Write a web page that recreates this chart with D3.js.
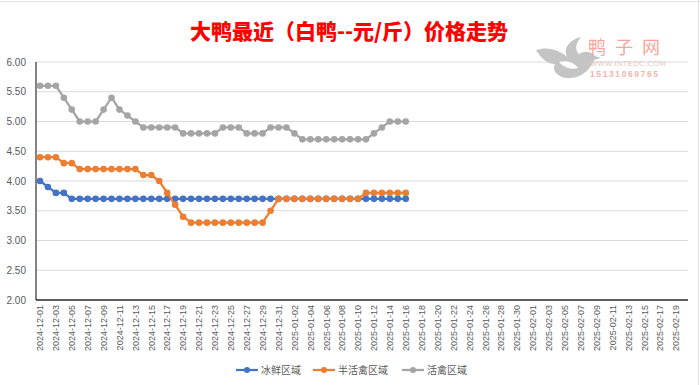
<!DOCTYPE html>
<html><head><meta charset="utf-8">
<script src="https://cdn.jsdelivr.net/npm/d3@7"></script>
<style>
html,body{margin:0;padding:0;background:#fff;}
svg{display:block;}
</style></head>
<body>
<svg id="c" width="700" height="385"></svg>
<script>
// ---- data ----
const startDate = "2024-12-01";
const endDate = "2025-02-20";
const seriesNames = ["冰鲜区域", "半活禽区域", "活禽区域"];
const seriesColors = ["#4472C4", "#ED7D31", "#A5A5A5"];
const iceValues = [4.0,3.9,3.8,3.8,3.7,3.7,3.7,3.7,3.7,3.7,3.7,3.7,3.7,3.7,3.7,3.7,3.7,3.7,3.7,3.7,3.7,3.7,3.7,3.7,3.7,3.7,3.7,3.7,3.7,3.7,3.7,3.7,3.7,3.7,3.7,3.7,3.7,3.7,3.7,3.7,3.7,3.7,3.7,3.7,3.7,3.7,3.7];
const halfLiveValues = [4.4,4.4,4.4,4.3,4.3,4.2,4.2,4.2,4.2,4.2,4.2,4.2,4.2,4.1,4.1,4.0,3.8,3.6,3.4,3.3,3.3,3.3,3.3,3.3,3.3,3.3,3.3,3.3,3.3,3.5,3.7,3.7,3.7,3.7,3.7,3.7,3.7,3.7,3.7,3.7,3.7,3.8,3.8,3.8,3.8,3.8,3.8];
const liveValues = [5.6,5.6,5.6,5.4,5.2,5.0,5.0,5.0,5.2,5.4,5.2,5.1,5.0,4.9,4.9,4.9,4.9,4.9,4.8,4.8,4.8,4.8,4.8,4.9,4.9,4.9,4.8,4.8,4.8,4.9,4.9,4.9,4.8,4.7,4.7,4.7,4.7,4.7,4.7,4.7,4.7,4.7,4.8,4.9,5.0,5.0,5.0];
const yTicks = [2.0,2.5,3.0,3.5,4.0,4.5,5.0,5.5,6.0];
const title = "大鸭最近（白鸭--元/斤）价格走势";

// ---- build categories ----
const fmt = d3.utcFormat("%Y-%m-%d");
const parse = d3.utcParse("%Y-%m-%d");
const categories = d3.utcDay.range(parse(startDate), d3.utcDay.offset(parse(endDate), 1)).map(fmt);
const allSeries = [iceValues, halfLiveValues, liveValues];

const svg = d3.select("#c");
const L = 36, R = 688, T = 62, B = 300;

// frame bits (spreadsheet edge)
svg.append("line").attr("x1",0).attr("x2",700).attr("y1",1.5).attr("y2",1.5).attr("stroke","#e3e3e3").attr("stroke-width",1);
svg.append("line").attr("x1",698.5).attr("x2",698.5).attr("y1",0).attr("y2",385).attr("stroke","#e3e3e3").attr("stroke-width",1);

const x = d3.scalePoint().domain(categories).range([L, R]).padding(0.5);
const y = d3.scaleLinear().domain([2, 6]).range([B, T]);

// gridlines
svg.append("g").selectAll("line").data(yTicks.filter(v => v > 2)).join("line")
  .attr("x1", L).attr("x2", R).attr("y1", d => y(d)).attr("y2", d => y(d))
  .attr("stroke", "#d9d9d9").attr("stroke-width", 1);

// watermark
const wm = svg.append("g");
wm.append("path")
  .attr("d", "M536,50 C548,46 560,50 567,57 C563,47 570,40 581,37 C575,44 575,50 579,54 C585,50 592,52 595,56 L601,58 L594,60 C591,68 583,77 571,78 C560,79 551,72 555,64 C547,64 541,58 536,50 Z")
  .attr("fill", "#c4c4c4");
wm.append("path")
  .attr("d", "M559,62 C566,60 574,62 578,68 C572,70 564,68 559,62 Z")
  .attr("fill", "#fff");
wm.append("text").attr("x", 588).attr("y", 53.5).attr("font-family", "Noto Sans CJK SC")
  .attr("font-size", 18).attr("fill", "#f5a59c").attr("letter-spacing", 9).text("鸭子网");
wm.append("text").attr("x", 590).attr("y", 66).attr("font-family", "Liberation Sans")
  .attr("font-size", 7.5).attr("fill", "#e7c4c0").attr("letter-spacing", 0.4).text("WWW.INTEDC.COM");
wm.append("text").attr("x", 590).attr("y", 77).attr("font-family", "Liberation Sans")
  .attr("font-size", 8.5).attr("font-weight", "bold").attr("fill", "#f5b4ac").attr("letter-spacing", 1.6).text("15131069765");

// y axis labels
svg.append("g").selectAll("text").data(yTicks).join("text")
  .attr("x", 26).attr("y", d => y(d) + 3.5).attr("text-anchor", "end")
  .attr("font-family", "Liberation Sans").attr("font-size", 10).attr("fill", "#595959")
  .text(d => d.toFixed(2));

// axes lines
svg.append("line").attr("x1", L).attr("x2", L).attr("y1", T).attr("y2", B).attr("stroke", "#595959").attr("stroke-width", 1.5);
svg.append("line").attr("x1", L).attr("x2", R).attr("y1", B).attr("y2", B).attr("stroke", "#262626").attr("stroke-width", 1.5);

// x labels
svg.append("g").selectAll("text").data(categories.filter((d, i) => i % 2 === 0)).join("text")
  .attr("transform", d => `translate(${x(d) + 3.3},305) rotate(-90)`)
  .attr("text-anchor", "end")
  .attr("font-family", "Liberation Sans").attr("font-size", 9).attr("fill", "#595959")
  .text(d => d);

// series
const line = d3.line().x((d, i) => x(categories[i])).y(d => y(d));
allSeries.forEach((vals, k) => {
  const g = svg.append("g");
  g.append("path").datum(vals).attr("d", line).attr("fill", "none")
    .attr("stroke", seriesColors[k]).attr("stroke-width", 2.25).attr("stroke-linejoin", "round");
  g.selectAll("circle").data(vals).join("circle")
    .attr("cx", (d, i) => x(categories[i])).attr("cy", d => y(d)).attr("r", 3.3)
    .attr("fill", seriesColors[k]);
});

// title
svg.append("text").attr("x", 349).attr("y", 38.5).attr("text-anchor", "middle")
  .attr("font-family", "Noto Sans CJK SC").attr("font-weight", "900").attr("font-size", 21)
  .attr("fill", "#ff0000").text(title);

// legend
const legendX = [236, 313, 402];
const lg = svg.append("g");
seriesNames.forEach((n, k) => {
  const lx = legendX[k];
  lg.append("line").attr("x1", lx).attr("x2", lx + 22).attr("y1", 370).attr("y2", 370)
    .attr("stroke", seriesColors[k]).attr("stroke-width", 2.25);
  lg.append("circle").attr("cx", lx + 11).attr("cy", 370).attr("r", 3).attr("fill", seriesColors[k]);
  lg.append("text").attr("x", lx + 25).attr("y", 373.5).attr("font-family", "Noto Sans CJK SC")
    .attr("font-size", 10).attr("fill", "#595959").text(n);
});
</script>
</body></html>
